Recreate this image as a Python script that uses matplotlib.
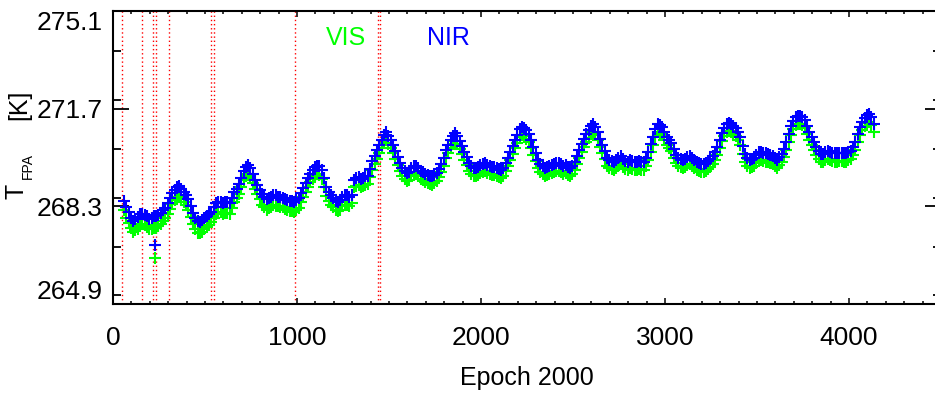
import numpy as np
import matplotlib.pyplot as plt
from matplotlib.ticker import MultipleLocator

plt.rcParams['font.family'] = ['Liberation Sans', 'DejaVu Sans']

# epoch (days since 2000) and focal plane temperatures
epoch = [
    60, 85, 110, 135, 160, 185, 210, 235, 260, 285, 310, 335, 360, 385, 410, 435,
    460, 485, 510, 535, 560, 585, 610, 635, 660, 685, 710, 735, 760, 785, 810, 835,
    860, 885, 910, 935, 960, 985, 1010, 1035, 1060, 1085, 1110, 1135, 1160, 1185, 1210, 1235,
    1260, 1285, 1310, 1335, 1360, 1385, 1410, 1435, 1460, 1485, 1510, 1535, 1560, 1585, 1610, 1635,
    1660, 1685, 1710, 1735, 1760, 1785, 1810, 1835, 1860, 1885, 1910, 1935, 1960, 1985, 2010, 2035,
    2060, 2085, 2110, 2135, 2160, 2185, 2210, 2235, 2260, 2285, 2310, 2335, 2360, 2385, 2410, 2435,
    2460, 2485, 2510, 2535, 2560, 2585, 2610, 2635, 2660, 2685, 2710, 2735, 2760, 2785, 2810, 2835,
    2860, 2885, 2910, 2935, 2960, 2985, 3010, 3035, 3060, 3085, 3110, 3135, 3160, 3185, 3210, 3235,
    3260, 3285, 3310, 3335, 3360, 3385, 3410, 3435, 3460, 3485, 3510, 3535, 3560, 3585, 3610, 3635,
    3660, 3685, 3710, 3735, 3760, 3785, 3810, 3835, 3860, 3885, 3910, 3935, 3960, 3985, 4010, 4035,
    4060, 4085, 4110, 4135]

nir = [
    268.50, 268.10, 267.80, 267.92, 268.05, 267.95, 267.88, 267.96, 268.08, 268.25, 268.58, 268.88, 269.00, 268.80, 268.56, 268.08,
    267.78, 267.82, 267.95, 268.12, 268.40, 268.45, 268.44, 268.42, 268.80, 269.08, 269.52, 269.74, 269.42, 269.05, 268.72, 268.55,
    268.62, 268.70, 268.62, 268.56, 268.50, 268.46, 268.60, 268.95, 269.28, 269.56, 269.72, 269.58, 268.98, 268.68, 268.50, 268.52,
    268.70, 268.62, 269.20, 269.32, 269.28, 269.36, 269.88, 270.25, 270.60, 270.88, 270.60, 270.22, 269.82, 269.52, 269.50, 269.72,
    269.62, 269.48, 269.38, 269.34, 269.45, 269.78, 270.25, 270.62, 270.84, 270.58, 270.20, 269.82, 269.62, 269.68, 269.78, 269.74,
    269.68, 269.64, 269.58, 269.80, 270.18, 270.60, 270.98, 271.02, 270.82, 270.38, 269.92, 269.70, 269.66, 269.74, 269.80, 269.76,
    269.74, 269.64, 269.85, 270.25, 270.65, 270.96, 271.18, 270.88, 270.45, 270.00, 269.88, 269.90, 270.06, 269.88, 269.90, 269.86,
    269.88, 269.84, 270.20, 270.72, 271.18, 271.05, 270.72, 270.50, 270.08, 269.94, 269.96, 270.04, 269.90, 269.80, 269.76, 269.88,
    270.05, 270.35, 270.86, 271.16, 271.16, 271.04, 270.70, 270.12, 269.92, 270.00, 270.18, 270.16, 270.12, 270.06, 269.92, 270.12,
    270.55, 271.08, 271.40, 271.46, 271.32, 270.88, 270.55, 270.22, 270.12, 270.24, 270.16, 270.14, 270.16, 270.14, 270.22, 270.55,
    271.05, 271.38, 271.52, 271.15]

vis = [
    268.18, 267.72, 267.42, 267.52, 267.68, 267.58, 267.50, 267.55, 267.70, 267.88, 268.20, 268.52, 268.64, 268.46, 268.18, 267.70,
    267.36, 267.42, 267.58, 267.74, 268.02, 268.10, 268.06, 268.04, 268.44, 268.74, 269.20, 269.44, 269.10, 268.72, 268.36, 268.18,
    268.26, 268.32, 268.26, 268.20, 268.14, 268.10, 268.24, 268.62, 268.96, 269.26, 269.42, 269.26, 268.66, 268.34, 268.16, 268.18,
    268.36, 268.30, 268.96, 269.06, 269.02, 269.08, 269.58, 269.96, 270.32, 270.60, 270.34, 269.94, 269.54, 269.24, 269.22, 269.44,
    269.34, 269.20, 269.10, 269.06, 269.18, 269.50, 269.98, 270.34, 270.56, 270.30, 269.92, 269.54, 269.34, 269.40, 269.50, 269.46,
    269.40, 269.36, 269.30, 269.52, 269.90, 270.32, 270.70, 270.74, 270.54, 270.10, 269.64, 269.42, 269.38, 269.46, 269.52, 269.48,
    269.46, 269.36, 269.57, 269.97, 270.37, 270.68, 270.90, 270.60, 270.17, 269.72, 269.60, 269.62, 269.78, 269.60, 269.62, 269.58,
    269.60, 269.56, 269.92, 270.44, 270.90, 270.77, 270.44, 270.22, 269.80, 269.66, 269.68, 269.76, 269.62, 269.52, 269.48, 269.60,
    269.77, 270.07, 270.58, 270.88, 270.88, 270.76, 270.42, 269.84, 269.64, 269.72, 269.90, 269.88, 269.84, 269.78, 269.64, 269.84,
    270.27, 270.80, 271.12, 271.18, 271.04, 270.60, 270.27, 269.94, 269.84, 269.96, 269.88, 269.86, 269.88, 269.86, 269.94, 270.27,
    270.77, 271.10, 271.24, 270.88]

# second set of samples, in between the first ones
epoch_b = [
    72, 97, 122, 147, 172, 197, 222, 247, 272, 297, 322, 347, 372, 397, 422, 447,
    472, 497, 522, 547, 572, 597, 622, 647, 672, 697, 722, 747, 772, 797, 822, 847,
    872, 897, 922, 947, 972, 997, 1022, 1047, 1072, 1097, 1122, 1147, 1172, 1197, 1222, 1247,
    1272, 1297, 1322, 1347, 1372, 1397, 1422, 1447, 1472, 1497, 1522, 1547, 1572, 1597, 1622, 1647,
    1672, 1697, 1722, 1747, 1772, 1797, 1822, 1847, 1872, 1897, 1922, 1947, 1972, 1997, 2022, 2047,
    2072, 2097, 2122, 2147, 2172, 2197, 2222, 2247, 2272, 2297, 2322, 2347, 2372, 2397, 2422, 2447,
    2472, 2497, 2522, 2547, 2572, 2597, 2622, 2647, 2672, 2697, 2722, 2747, 2772, 2797, 2822, 2847,
    2872, 2897, 2922, 2947, 2972, 2997, 3022, 3047, 3072, 3097, 3122, 3147, 3172, 3197, 3222, 3247,
    3272, 3297, 3322, 3347, 3372, 3397, 3422, 3447, 3472, 3497, 3522, 3547, 3572, 3597, 3622, 3647,
    3672, 3697, 3722, 3747, 3772, 3797, 3822, 3847, 3872, 3897, 3922, 3947, 3972, 3997, 4022, 4047,
    4072, 4097, 4122]

nir_b = [
    268.28, 267.90, 267.85, 268.02, 268.00, 267.86, 267.95, 268.00, 268.18, 268.40, 268.75, 268.98, 268.92, 268.70, 268.30, 267.90,
    267.76, 267.90, 268.02, 268.28, 268.46, 268.40, 268.46, 268.60, 268.92, 269.30, 269.66, 269.62, 269.22, 268.88, 268.62, 268.58,
    268.68, 268.64, 268.60, 268.52, 268.48, 268.52, 268.78, 269.12, 269.44, 269.66, 269.70, 269.30, 268.80, 268.58, 268.46, 268.62,
    268.68, 268.70, 269.30, 269.26, 269.34, 269.60, 270.05, 270.45, 270.78, 270.76, 270.42, 270.02, 269.64, 269.46, 269.62, 269.70,
    269.54, 269.42, 269.36, 269.38, 269.60, 269.98, 270.45, 270.76, 270.74, 270.40, 270.02, 269.70, 269.64, 269.74, 269.80, 269.70,
    269.66, 269.60, 269.64, 269.98, 270.40, 270.80, 271.06, 270.94, 270.60, 270.15, 269.78, 269.64, 269.70, 269.78, 269.80, 269.72,
    269.68, 269.70, 270.05, 270.46, 270.82, 271.10, 271.05, 270.66, 270.22, 269.90, 269.86, 270.00, 269.96, 269.86, 269.88, 269.86,
    269.84, 270.00, 270.48, 270.98, 271.14, 270.90, 270.62, 270.28, 269.98, 269.92, 270.02, 269.98, 269.84, 269.78, 269.80, 269.94,
    270.18, 270.62, 271.02, 271.20, 271.10, 270.88, 270.40, 269.98, 269.96, 270.10, 270.18, 270.14, 270.10, 269.98, 270.02, 270.30,
    270.82, 271.28, 271.46, 271.40, 271.10, 270.70, 270.38, 270.12, 270.20, 270.20, 270.14, 270.16, 270.14, 270.18, 270.36, 270.82,
    271.24, 271.48, 271.40]

vis_b = [
    267.90, 267.55, 267.48, 267.62, 267.64, 267.50, 267.56, 267.62, 267.80, 268.04, 268.38, 268.62, 268.56, 268.34, 267.92, 267.52,
    267.38, 267.52, 267.66, 267.90, 268.08, 268.04, 268.08, 268.24, 268.58, 268.96, 269.34, 269.30, 268.90, 268.56, 268.28, 268.24,
    268.34, 268.30, 268.26, 268.18, 268.14, 268.18, 268.46, 268.80, 269.14, 269.36, 269.40, 268.98, 268.48, 268.26, 268.14, 268.30,
    268.36, 268.40, 269.02, 268.98, 269.06, 269.32, 269.76, 270.16, 270.50, 270.48, 270.14, 269.74, 269.36, 269.18, 269.34, 269.42,
    269.26, 269.14, 269.08, 269.10, 269.32, 269.70, 270.17, 270.48, 270.46, 270.12, 269.74, 269.42, 269.36, 269.46, 269.52, 269.42,
    269.38, 269.32, 269.36, 269.70, 270.12, 270.52, 270.78, 270.66, 270.32, 269.87, 269.50, 269.36, 269.42, 269.50, 269.52, 269.44,
    269.40, 269.42, 269.77, 270.18, 270.54, 270.82, 270.77, 270.38, 269.94, 269.62, 269.58, 269.72, 269.68, 269.58, 269.60, 269.58,
    269.56, 269.72, 270.20, 270.70, 270.86, 270.62, 270.34, 270.00, 269.70, 269.64, 269.74, 269.70, 269.56, 269.50, 269.52, 269.66,
    269.90, 270.34, 270.74, 270.92, 270.82, 270.60, 270.12, 269.70, 269.68, 269.82, 269.90, 269.86, 269.82, 269.70, 269.74, 270.02,
    270.54, 271.00, 271.18, 271.12, 270.82, 270.42, 270.10, 269.84, 269.92, 269.92, 269.86, 269.88, 269.86, 269.90, 270.08, 270.54,
    270.96, 271.20, 271.12]

# single low outlier
out_epoch = [228]
out_nir = [266.96]
out_vis = [266.49]

# red dotted markers (events)
events = [51, 159, 216, 232, 306, 531, 549, 989, 1440, 1452]

yticks = [264.9, 268.3, 271.7, 275.1]

fig = plt.figure(figsize=(9.35, 3.93), dpi=100)
ax = fig.add_axes([113/935, 89/393, 828/935, 293/393])

for e in events:
    ax.axvline(e, color='#ff0000', ls=(0, (1, 2)), lw=1.0, zorder=1)

mk = dict(marker='+', ls='none', ms=8, mew=1.5)
ax.plot(epoch + epoch_b + out_epoch, vis + vis_b + out_vis, color='#00ff00', zorder=2, **mk)
ax.plot(epoch + epoch_b + out_epoch, nir + nir_b + out_nir, color='#0000ff', zorder=3, **mk)

ax.set_xlim(0, 4500)
ax.set_ylim(264.9, 275.1)
ax.set_xticks([0, 1000, 2000, 3000, 4000])
ax.xaxis.set_minor_locator(MultipleLocator(100))
ax.set_yticks(yticks)
ax.set_yticklabels(['%.1f' % v for v in yticks])
ax.yaxis.set_minor_locator(MultipleLocator(1.7))

ax.tick_params(axis='x', which='both', direction='in', top=True, bottom=True,
               labelsize=19, pad=16, width=1.1, color='black')
ax.tick_params(axis='x', which='major', length=4.5)
ax.tick_params(axis='x', which='minor', length=2.3)
ax.tick_params(axis='y', which='both', direction='in', left=True, right=True,
               labelsize=19, pad=7.5, width=1.3)
ax.tick_params(axis='y', which='major', length=11.5)
ax.tick_params(axis='y', which='minor', length=6)
for s in ax.spines.values():
    s.set_linewidth(1.5)

labs = ax.get_yticklabels()
labs[0].set_va('bottom')
labs[-1].set_va('top')

ax.text(1266, 274.15, 'VIS', color='#00ff00', fontsize=18, ha='center', va='center')
ax.text(1821, 274.15, 'NIR', color='#0000ff', fontsize=18, ha='center', va='center')

fig.text(527/935, 1 - 378/393, 'Epoch 2000', fontsize=18, ha='center', va='center')
fig.text(17/935, 1 - 191/393, 'T', fontsize=18, rotation=90, ha='center', va='center')
fig.text(28/935, 1 - 166/393, 'FPA', fontsize=10, rotation=90, ha='center', va='center')
fig.text(19/935, 1 - 105/393, '[K]', fontsize=18, rotation=90, ha='center', va='center')

fig.savefig('out.png', dpi=100)
